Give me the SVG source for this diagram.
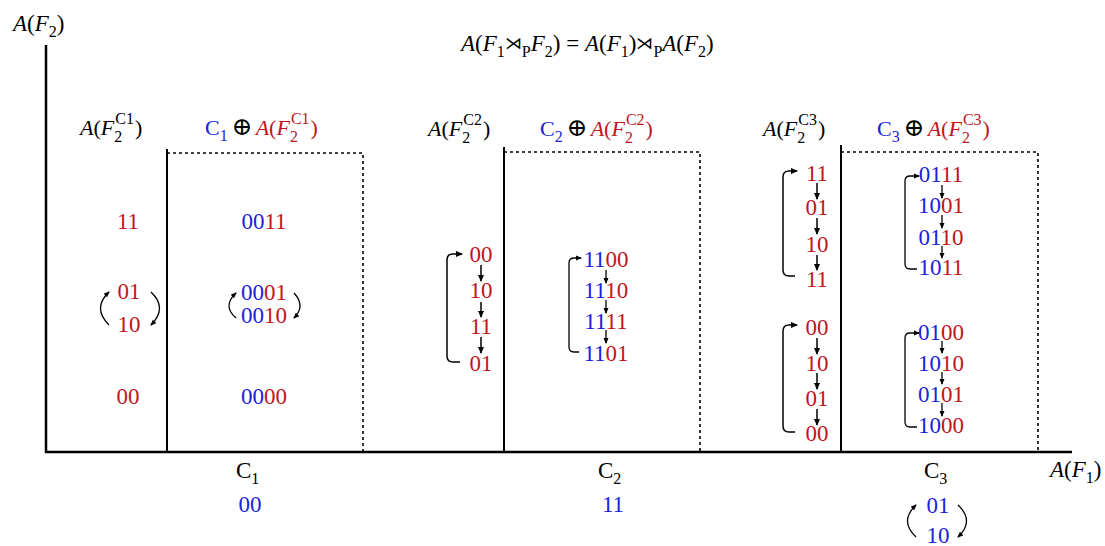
<svg xmlns="http://www.w3.org/2000/svg" width="1105" height="546" viewBox="0 0 1105 546">
<style>
text{font-family:"Liberation Serif","DejaVu Serif",serif;font-size:22px;fill:#000}
.d{font-size:23px;text-anchor:middle}
.r{fill:#c0141c}
.b{fill:#2020dc}
.i{font-style:italic}
.s{font-size:16px}
.o{font-size:25px}
.x{font-size:17px}
.ax{stroke:#000;stroke-width:2.5;fill:none}
.sol{stroke:#000;stroke-width:2;fill:none}
.dash{stroke:#000;stroke-width:1.6;stroke-dasharray:3 3;fill:none}
.ar{stroke:#000;stroke-width:1.5;fill:none;marker-end:url(#ah)}
.ar2{stroke:#000;stroke-width:1.3;fill:none;marker-end:url(#ah2)}
</style>
<defs>
<marker id="ah" markerWidth="8" markerHeight="8" refX="6" refY="4" orient="auto" markerUnits="userSpaceOnUse"><path d="M0,1 L7,4 L0,7 Z" fill="#000"/></marker>
<marker id="ah2" markerWidth="7" markerHeight="6" refX="5" refY="3" orient="auto" markerUnits="userSpaceOnUse"><path d="M0,0.5 L6,3 L0,5.5 Z" fill="#000"/></marker>
</defs>

<g id="axes">
<path class="ax" d="M46,45 L46,452 L1072,452"/>
<text x="13" y="31" style="font-size:23px"><tspan class="i">A</tspan>(<tspan class="i">F</tspan><tspan class="s" dy="6">2</tspan><tspan dy="-6">)</tspan></text>
<text x="1050" y="477" style="font-size:23px"><tspan class="i">A</tspan>(<tspan class="i">F</tspan><tspan class="s" dy="6">1</tspan><tspan dy="-6">)</tspan></text>
<text x="461" y="51" style="font-size:23px"><tspan class="i">A</tspan>(<tspan class="i">F</tspan><tspan class="s" dy="6">1</tspan><tspan class="x" dy="-8">⋊</tspan><tspan class="s" dy="8">P</tspan><tspan class="i" dy="-6">F</tspan><tspan class="s" dy="6">2</tspan><tspan dy="-6">) = </tspan><tspan class="i">A</tspan>(<tspan class="i">F</tspan><tspan class="s" dy="6">1</tspan><tspan dy="-6">)</tspan><tspan class="x" dy="-2">⋊</tspan><tspan class="s" dy="8">P</tspan><tspan class="i" dy="-6">A</tspan>(<tspan class="i">F</tspan><tspan class="s" dy="6">2</tspan><tspan dy="-6">)</tspan></text>
</g>

<g id="section1">
<path class="sol" d="M167,149 L167,452"/>
<path class="dash" d="M167,153 L363,153 L363,452"/>
<text x="80" y="135"><tspan class="i">A</tspan>(<tspan class="i">F</tspan><tspan class="s" dy="7">2</tspan><tspan class="s" dx="-7" dy="-18">C1</tspan><tspan dy="11" dx="1">)</tspan></text>
<text x="205" y="135"><tspan class="b">C</tspan><tspan class="b s" dy="6">1</tspan><tspan class="o" dx="4" dy="-6">⊕</tspan><tspan class="r i" dx="3">A</tspan><tspan class="r">(</tspan><tspan class="r i">F</tspan><tspan class="r s" dy="7">2</tspan><tspan class="r s" dx="-7" dy="-18">C1</tspan><tspan class="r" dy="11" dx="1">)</tspan></text>
<text class="d r" x="128" y="229">11</text>
<text class="d r" x="129" y="299">01</text>
<text class="d r" x="129" y="332">10</text>
<text class="d r" x="128" y="404">00</text>
<path class="ar2" d="M109,325 Q92,308 109,292"/>
<path class="ar2" d="M151,292 Q168,308 151,325"/>
<text class="d" x="264" y="229"><tspan class="b">00</tspan><tspan class="r">11</tspan></text>
<text class="d" x="264" y="300"><tspan class="b">00</tspan><tspan class="r">01</tspan></text>
<text class="d" x="264" y="323"><tspan class="b">00</tspan><tspan class="r">10</tspan></text>
<text class="d" x="264" y="404"><tspan class="b">00</tspan><tspan class="r">00</tspan></text>
<path class="ar2" d="M236,318 Q222,306 236,293"/>
<path class="ar2" d="M294,293 Q306,306 294,318"/>
<text x="236" y="478" style="font-size:23px">C<tspan class="s" dy="6">1</tspan></text>
<text class="d b" x="250" y="512">00</text>
</g>

<g id="section2">
<path class="sol" d="M504,147 L504,452"/>
<path class="dash" d="M504,152 L700,152 L700,452"/>
<text x="428" y="136"><tspan class="i">A</tspan>(<tspan class="i">F</tspan><tspan class="s" dy="7">2</tspan><tspan class="s" dx="-7" dy="-18">C2</tspan><tspan dy="11" dx="1">)</tspan></text>
<text x="540" y="136"><tspan class="b">C</tspan><tspan class="b s" dy="6">2</tspan><tspan class="o" dx="4" dy="-6">⊕</tspan><tspan class="r i" dx="3">A</tspan><tspan class="r">(</tspan><tspan class="r i">F</tspan><tspan class="r s" dy="7">2</tspan><tspan class="r s" dx="-7" dy="-18">C2</tspan><tspan class="r" dy="11" dx="1">)</tspan></text>
<text class="d r" x="481" y="262">00</text>
<text class="d r" x="481" y="298">10</text>
<text class="d r" x="481" y="334">11</text>
<text class="d r" x="481" y="371">01</text>
<path class="ar" d="M481,265 L481,281"/>
<path class="ar" d="M481,302 L481,317"/>
<path class="ar" d="M481,337 L481,353"/>
<path class="ar" d="M460,362 L453,362 Q447,362 447,356 L447,260 Q447,254 453,254 L462,254"/>
<text class="d" x="606" y="267"><tspan class="b">11</tspan><tspan class="r">00</tspan></text>
<text class="d" x="606" y="298"><tspan class="b">11</tspan><tspan class="r">10</tspan></text>
<text class="d" x="606" y="329"><tspan class="b">11</tspan><tspan class="r">11</tspan></text>
<text class="d" x="606" y="361"><tspan class="b">11</tspan><tspan class="r">01</tspan></text>
<path class="ar2" d="M606,270 L606,283"/>
<path class="ar2" d="M606,300 L606,313"/>
<path class="ar2" d="M606,330 L606,343"/>
<path class="ar2" d="M579,352 L574,352 Q569,352 569,347 L569,263 Q569,258 574,258 L581,258"/>
<text x="598" y="478" style="font-size:23px">C<tspan class="s" dy="6">2</tspan></text>
<text class="d b" x="613" y="512">11</text>
</g>

<g id="section3">
<path class="sol" d="M841,145 L841,452"/>
<path class="dash" d="M841,152 L1038,152 L1038,452"/>
<text x="763" y="136"><tspan class="i">A</tspan>(<tspan class="i">F</tspan><tspan class="s" dy="7">2</tspan><tspan class="s" dx="-7" dy="-18">C3</tspan><tspan dy="11" dx="1">)</tspan></text>
<text x="877" y="136"><tspan class="b">C</tspan><tspan class="b s" dy="6">3</tspan><tspan class="o" dx="4" dy="-6">⊕</tspan><tspan class="r i" dx="3">A</tspan><tspan class="r">(</tspan><tspan class="r i">F</tspan><tspan class="r s" dy="7">2</tspan><tspan class="r s" dx="-7" dy="-18">C3</tspan><tspan class="r" dy="11" dx="1">)</tspan></text>
<text class="d r" x="817" y="181">11</text>
<text class="d r" x="817" y="215">01</text>
<text class="d r" x="817" y="252">10</text>
<text class="d r" x="817" y="287">11</text>
<path class="ar" d="M817,183 L817,199"/>
<path class="ar" d="M817,218 L817,234"/>
<path class="ar" d="M817,255 L817,270"/>
<path class="ar" d="M795,276 L789,276 Q783,276 783,270 L783,177 Q783,171 789,171 L797,171"/>
<text class="d r" x="817" y="335">00</text>
<text class="d r" x="817" y="371">10</text>
<text class="d r" x="817" y="406">01</text>
<text class="d r" x="817" y="441">00</text>
<path class="ar" d="M817,338 L817,354"/>
<path class="ar" d="M817,373 L817,389"/>
<path class="ar" d="M817,409 L817,425"/>
<path class="ar" d="M795,432 L789,432 Q783,432 783,426 L783,331 Q783,325 789,325 L797,325"/>
<text class="d" x="941" y="182"><tspan class="b">01</tspan><tspan class="r">11</tspan></text>
<text class="d" x="941" y="213"><tspan class="b">10</tspan><tspan class="r">01</tspan></text>
<text class="d" x="941" y="245"><tspan class="b">01</tspan><tspan class="r">10</tspan></text>
<text class="d" x="941" y="275"><tspan class="b">10</tspan><tspan class="r">11</tspan></text>
<path class="ar2" d="M942,185 L942,198"/>
<path class="ar2" d="M942,215 L942,228"/>
<path class="ar2" d="M942,246 L942,258"/>
<path class="ar2" d="M917,269 L910,269 Q905,269 905,264 L905,181 Q905,176 910,176 L919,176"/>
<text class="d" x="941" y="340"><tspan class="b">01</tspan><tspan class="r">00</tspan></text>
<text class="d" x="941" y="371"><tspan class="b">10</tspan><tspan class="r">10</tspan></text>
<text class="d" x="941" y="402"><tspan class="b">01</tspan><tspan class="r">01</tspan></text>
<text class="d" x="941" y="433"><tspan class="b">10</tspan><tspan class="r">00</tspan></text>
<path class="ar2" d="M942,341 L942,353"/>
<path class="ar2" d="M942,372 L942,384"/>
<path class="ar2" d="M942,403 L942,416"/>
<path class="ar2" d="M917,427 L910,427 Q905,427 905,422 L905,338 Q905,333 910,333 L919,333"/>
<text x="924" y="478" style="font-size:23px">C<tspan class="s" dy="6">3</tspan></text>
<text class="d b" x="938" y="513">01</text>
<text class="d b" x="938" y="543">10</text>
<path class="ar2" d="M916,537 Q899,521 916,505"/>
<path class="ar2" d="M958,505 Q975,521 958,537"/>
</g>
</svg>
